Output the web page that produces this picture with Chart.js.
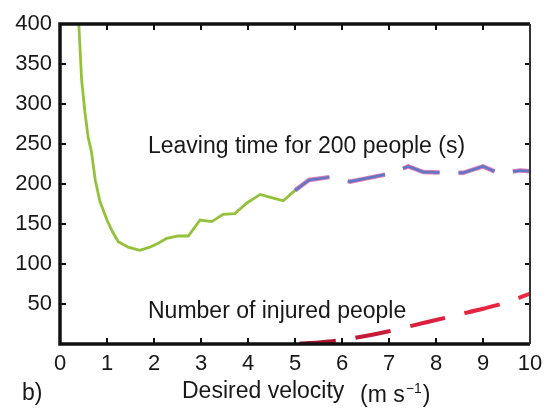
<!DOCTYPE html>
<html>
<head>
<meta charset="utf-8">
<script src="https://cdn.jsdelivr.net/npm/chart.js@4.4.1/dist/chart.umd.min.js"></script>
<style>
  html, body { margin: 0; padding: 0; background: #fff; }
  #wrap { width: 553px; height: 411px; }
</style>
</head>
<body>
<div id="wrap"><canvas id="chart"></canvas></div>
<script>
// leaving time, solid part (green)
var leaveX = [0.4, 0.46, 0.53, 0.6, 0.67, 0.75, 0.85, 1.0, 1.12, 1.24, 1.45, 1.7, 1.91, 2.09, 2.27, 2.52, 2.73, 2.98, 3.23, 3.47, 3.72, 3.97, 4.26, 4.5, 4.75, 5.0];
var leaveY = [400, 330, 290, 258, 240, 205, 178, 155, 140, 128, 121, 117, 121, 126, 132, 135, 135, 155, 153, 162, 163, 176, 187, 183, 179, 192];
// leaving time, dashed part (blue)
var leaveDashX = [5.0, 5.3, 5.78, 6.17, 6.6, 7.02, 7.41, 7.73, 8.19, 8.58, 9.0, 9.36, 9.79, 10];
var leaveDashY = [192, 205, 209, 203, 208, 213, 222, 215, 214, 214, 222, 213, 217, 216];
// injured people (red dashed)
var injuredX = [5.1, 5.5, 6, 6.5, 7, 7.5, 8, 8.5, 9, 9.5, 10];
var injuredY = [0.5, 2, 5, 10, 16, 23, 30, 37, 44, 52, 63];

var xTicks = [0, 1, 2, 3, 4, 5, 6, 7, 8, 9, 10];
var yTicks = [0, 50, 100, 150, 200, 250, 300, 350, 400];

function pts(xs, ys) {
    return xs.map(function (x, i) { return { x: x, y: ys[i] }; });
}

var FONT = "'Liberation Sans', Arial, sans-serif";
var INK = "#181818";

// red line goes from dark crimson to bright red
function redGradient(c) {
    var chart = c.chart, a = chart.chartArea;
    if (!a) return "#e3253d";
    var xs = chart.scales.x;
    var g = chart.ctx.createLinearGradient(xs.getPixelForValue(5), 0, xs.getPixelForValue(10), 0);
    g.addColorStop(0, "#a5122c");
    g.addColorStop(0.5, "#d81f3c");
    g.addColorStop(1, "#f02a40");
    return g;
}

var framePlugin = {
    id: 'frame',
    afterDatasetsDraw: function (chart) {
        var ctx = chart.ctx, a = chart.chartArea;
        var xs = chart.scales.x, ys = chart.scales.y;
        ctx.save();
        ctx.strokeStyle = "#111";
        ctx.lineCap = "butt";
        // inward ticks
        ctx.lineWidth = 2;
        xTicks.forEach(function (v) {
            if (v === 0 || v === 10) return;
            var p = xs.getPixelForValue(v);
            ctx.beginPath();
            ctx.moveTo(p, a.bottom); ctx.lineTo(p, a.bottom - 6);
            ctx.moveTo(p, a.top); ctx.lineTo(p, a.top + 6);
            ctx.stroke();
        });
        yTicks.forEach(function (v) {
            if (v === 0 || v === 400) return;
            var p = ys.getPixelForValue(v);
            ctx.beginPath();
            ctx.moveTo(a.left, p); ctx.lineTo(a.left + 6, p);
            ctx.moveTo(a.right, p); ctx.lineTo(a.right - 5, p);
            ctx.stroke();
        });
        // box
        ctx.lineWidth = 3.5;
        ctx.beginPath();
        ctx.moveTo(a.right, a.top); ctx.lineTo(a.left, a.top);
        ctx.lineTo(a.left, a.bottom); ctx.lineTo(a.right, a.bottom);
        ctx.stroke();
        ctx.lineWidth = 2;
        ctx.strokeStyle = "#333";
        ctx.beginPath();
        ctx.moveTo(a.right, a.top); ctx.lineTo(a.right, a.bottom);
        ctx.stroke();
        ctx.restore();
    },
    afterDraw: function (chart) {
        var ctx = chart.ctx;
        ctx.save();
        ctx.fillStyle = INK;
        ctx.textBaseline = "alphabetic";
        ctx.textAlign = "left";
        ctx.font = "23px " + FONT;
        ctx.fillText("Leaving time for 200 people (s)", 148, 153);
        ctx.fillText("Number of injured people", 148, 318);
        ctx.fillText("b)", 22, 400);
        ctx.fillText("Desired velocity", 182, 398);
        ctx.fillText("(m s", 360, 402);
        var w = ctx.measureText("(m s").width;
        ctx.font = "14px " + FONT;
        ctx.fillText("\u22121", 360 + w + 1, 393);
        var w2 = ctx.measureText("\u22121").width;
        ctx.font = "23px " + FONT;
        ctx.fillText(")", 360 + w + w2 + 2, 402);
        ctx.restore();
    }
};

new Chart(document.getElementById("chart"), {
    type: 'line',
    data: {
        datasets: [
            {
                data: pts(leaveX, leaveY),
                borderColor: "#93c23a",
                borderWidth: 2.8,
                pointRadius: 0,
                tension: 0,
                order: 1
            },
            {
                data: pts(leaveDashX, leaveDashY),
                borderColor: "#5a78c6",
                borderWidth: 2.5,
                borderDash: [38, 19],
                pointRadius: 0,
                tension: 0,
                order: 0
            },
            {
                data: pts(leaveDashX, leaveDashY),
                borderColor: "#e27ab4",
                borderWidth: 4.5,
                borderDash: [38, 19],
                pointRadius: 0,
                tension: 0,
                order: 2
            },
            {
                data: pts(injuredX, injuredY),
                borderColor: redGradient,
                borderWidth: 4,
                borderDash: [36, 20],
                pointRadius: 0,
                tension: 0.3,
                order: 3
            }
        ]
    },
    options: {
        responsive: true,
        maintainAspectRatio: false,
        animation: false,
        layout: { padding: { top: 24, right: 23, left: 0, bottom: 0 } },
        plugins: {
            legend: { display: false },
            tooltip: { enabled: false }
        },
        scales: {
            x: {
                type: 'linear',
                min: 0,
                max: 10,
                afterFit: function (s) { s.height = 67; },
                afterBuildTicks: function (s) { s.ticks = xTicks.map(function (v) { return { value: v }; }); },
                grid: { display: false, drawTicks: false },
                border: { display: false },
                ticks: {
                    padding: 7,
                    color: INK,
                    font: { family: FONT, size: 22 }
                }
            },
            y: {
                min: 0,
                max: 400,
                afterFit: function (s) { s.width = 60; },
                afterBuildTicks: function (s) { s.ticks = yTicks.map(function (v) { return { value: v }; }); },
                grid: { display: false, drawTicks: false },
                border: { display: false },
                ticks: {
                    padding: 8,
                    color: INK,
                    font: { family: FONT, size: 22 },
                    callback: function (v) { return v === 0 ? '' : v; }
                }
            }
        }
    },
    plugins: [framePlugin]
});
</script>
</body>
</html>
